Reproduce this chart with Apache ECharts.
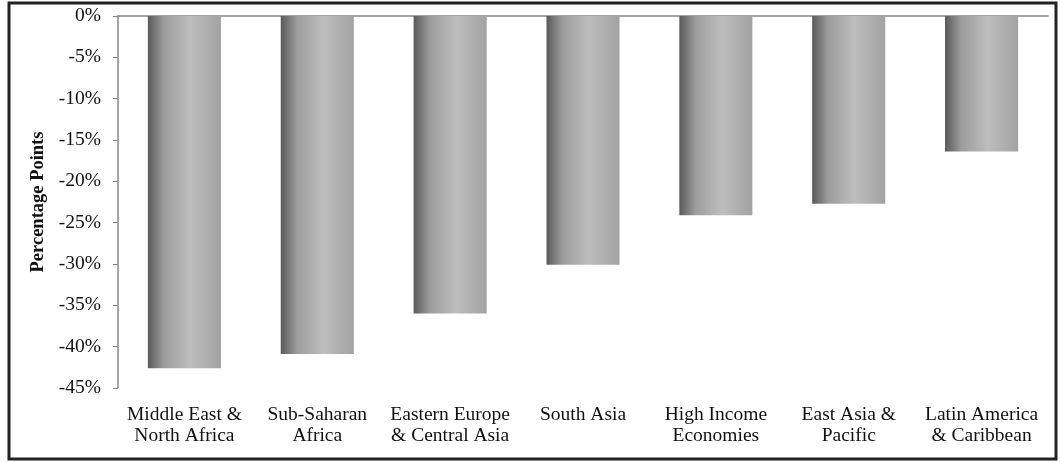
<!DOCTYPE html>
<html>
<head>
<meta charset="utf-8">
<script src="https://cdn.jsdelivr.net/npm/echarts@6/dist/echarts.min.js"></script>
<style>html,body{margin:0;padding:0;background:#fff}#c{width:1060px;height:462px}</style>
</head>
<body>
<div id="c"></div>
<script>
var categories = ["Middle East &\nNorth Africa", "Sub-Saharan\nAfrica", "Eastern Europe\n& Central Asia", "South Asia", "High Income\nEconomies", "East Asia &\nPacific", "Latin America\n& Caribbean"];
var values = [-42.6, -40.9, -36.0, -30.1, -24.1, -22.7, -16.4];
var yTicks = { min: -45, max: 0, interval: 5 };
var yTitle = "Percentage Points";

var serif = "'Liberation Serif', 'Times New Roman', serif";
var chart = echarts.init(document.getElementById('c'), null, { renderer: 'canvas' });
chart.setOption({
  animation: false,
  backgroundColor: '#fff',
  graphic: [{
    type: 'rect', shape: { x: 9, y: 3, width: 1047, height: 456 },
    style: { fill: 'none', stroke: '#222', lineWidth: 3 }, silent: true
  }],
  grid: { left: 118, right: 12, top: 16, bottom: 74 },
  xAxis: [{
    type: 'category', data: categories, position: 'bottom',
    axisLine: { show: false, onZero: false }, axisTick: { show: false },
    axisLabel: { fontFamily: serif, fontSize: 19.5, color: '#111', margin: 16, lineHeight: 21, interval: 0 }
  }, {
    type: 'category', data: categories, position: 'top',
    axisLine: { show: true, onZero: false, lineStyle: { color: '#888', width: 1.5 } },
    axisTick: { show: false }, axisLabel: { show: false }
  }],
  yAxis: {
    type: 'value', min: yTicks.min, max: yTicks.max, interval: yTicks.interval,
    name: yTitle, nameLocation: 'middle', nameGap: 67,
    nameTextStyle: { fontFamily: serif, fontSize: 18.5, fontWeight: 'bold', color: '#111' },
    axisLine: { show: true, lineStyle: { color: '#888', width: 1.5 } },
    axisTick: { show: true, length: 5, lineStyle: { color: '#888' } },
    splitLine: { show: false },
    axisLabel: { formatter: function (v) { return v + '%'; }, fontFamily: serif, fontSize: 19.5, color: '#111', margin: 17 }
  },
  series: [{
    type: 'bar', data: values, barWidth: '55%', xAxisIndex: 0,
    itemStyle: {
      color: new echarts.graphic.LinearGradient(0, 0, 1, 0, [
        { offset: 0, color: '#5a5a5a' },
        { offset: 0.22, color: '#9c9c9c' },
        { offset: 0.58, color: '#bdbdbd' },
        { offset: 1, color: '#a2a2a2' }
      ])
    }
  }]
});
</script>
</body>
</html>
